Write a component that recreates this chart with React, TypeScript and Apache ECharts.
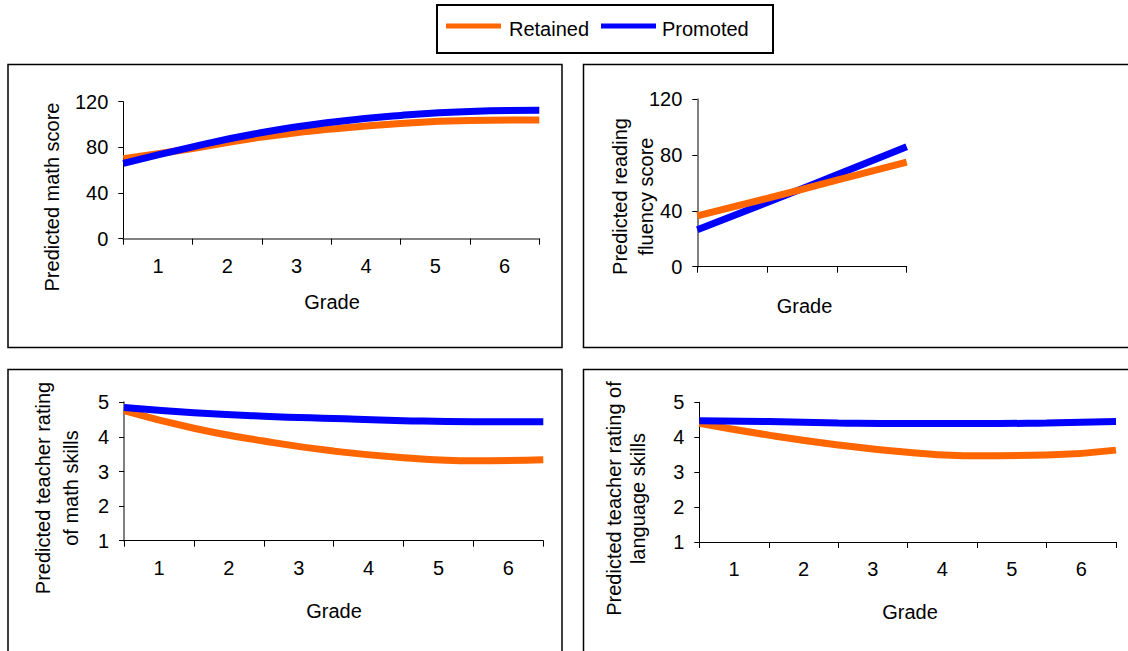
import React, { useEffect, useRef } from "react";
import * as echarts from "echarts";

// ---- data ----
const gradeLabels = ["1", "2", "3", "4", "5", "6"];
const readingCategories = ["", "", ""];
const gradePositions = [0.5, 1.5, 2.5, 3.5, 4.5, 5.5, 6.5];
const readingPositions = [0.5, 1.5, 2.5, 3.5];

const mathRetained = [70, 79, 89, 96, 101, 103.5, 104];
const mathPromoted = [66, 80.5, 93, 102, 108, 111.5, 112.5];
const readingRetained = [36.5, 49, 62, 75];
const readingPromoted = [26.5, 46, 66, 86];
const teacherMathRetained = [4.76, 4.25, 3.88, 3.59, 3.4, 3.31, 3.34];
const teacherMathPromoted = [4.85, 4.7, 4.6, 4.53, 4.47, 4.44, 4.44];
const teacherLangRetained = [4.4, 4.06, 3.78, 3.57, 3.47, 3.49, 3.63];
const teacherLangPromoted = [4.47, 4.45, 4.41, 4.39, 4.39, 4.41, 4.45];

const scoreTicks = { min: 0, max: 120, interval: 40 };
const ratingTicks = { min: 1, max: 5, interval: 1 };

const seriesNames = ["Retained", "Promoted"];
const ORANGE = "#FF6600";
const BLUE = "#0000FF";
const FONT = "'Liberation Sans', Arial, Helvetica, sans-serif";

const zip = (xs: number[], ys: number[]) => xs.map((x, i) => [x, ys[i]]);

export default function App() {
  const ref = useRef<HTMLDivElement>(null);

  useEffect(() => {
    if (!ref.current) return;
    const chart = echarts.init(ref.current, null, { renderer: "svg" });

    const panels = [
      {
        grid: { left: 123.3, top: 101.7, width: 416, height: 137 },
        cats: gradeLabels, xmax: 6.5, showLabels: true,
        y: scoreTicks, xs: gradePositions,
        retained: mathRetained, promoted: mathPromoted, promotedOnTop: true,
        yLineColor: "#000", yLineWidth: 1, xLineColor: "#808080", xLineWidth: 2,
      },
      {
        grid: { left: 697.3, top: 99.3, width: 209.4, height: 167.4 },
        cats: readingCategories, xmax: 3.5, showLabels: false,
        y: scoreTicks, xs: readingPositions,
        retained: readingRetained, promoted: readingPromoted, promotedOnTop: false,
        yLineColor: "#808080", yLineWidth: 2, xLineColor: "#000", xLineWidth: 1,
      },
      {
        grid: { left: 124, top: 402.3, width: 419.3, height: 138.4 },
        cats: gradeLabels, xmax: 6.5, showLabels: true,
        y: ratingTicks, xs: gradePositions,
        retained: teacherMathRetained, promoted: teacherMathPromoted, promotedOnTop: true,
        yLineColor: "#808080", yLineWidth: 2, xLineColor: "#000", xLineWidth: 1,
      },
      {
        grid: { left: 699.3, top: 402.3, width: 416.7, height: 139.7 },
        cats: gradeLabels, xmax: 6.5, showLabels: true,
        y: ratingTicks, xs: gradePositions,
        retained: teacherLangRetained, promoted: teacherLangPromoted, promotedOnTop: true,
        yLineColor: "#000", yLineWidth: 1, xLineColor: "#000", xLineWidth: 1,
      },
    ];

    const grids: any[] = [];
    const xAxes: any[] = [];
    const yAxes: any[] = [];
    const series: any[] = [];

    panels.forEach((p, i) => {
      grids.push({ ...p.grid, containLabel: false });
      xAxes.push({
        type: "category",
        gridIndex: i,
        data: p.cats,
        boundaryGap: true,
        axisLine: { show: true, lineStyle: { color: p.xLineColor, width: p.xLineWidth } },
        axisTick: { show: true, length: 6, lineStyle: { color: "#000" } },
        axisLabel: {
          show: p.showLabels,
          margin: 17,
          color: "#000",
          fontSize: 20,
          fontFamily: FONT,
        },
        splitLine: { show: false },
      });
      xAxes.push({
        type: "value",
        gridIndex: i,
        min: 0.5,
        max: p.xmax,
        show: false,
      });
      yAxes.push({
        type: "value",
        gridIndex: i,
        min: p.y.min,
        max: p.y.max,
        interval: p.y.interval,
        axisLine: { show: true, lineStyle: { color: p.yLineColor, width: p.yLineWidth } },
        axisTick: { show: true, length: 5, lineStyle: { color: "#000" } },
        axisLabel: { margin: 15, color: "#000", fontSize: 20, fontFamily: FONT },
        splitLine: { show: false },
      });
      const r = {
        name: seriesNames[0],
        type: "line",
        xAxisIndex: 2 * i + 1,
        yAxisIndex: i,
        data: zip(p.xs, p.retained),
        smooth: true,
        showSymbol: false,
        symbol: "none",
        lineStyle: { color: ORANGE, width: 7 },
        itemStyle: { color: ORANGE },
        z: p.promotedOnTop ? 2 : 3,
      };
      const b = {
        name: seriesNames[1],
        type: "line",
        xAxisIndex: 2 * i + 1,
        yAxisIndex: i,
        data: zip(p.xs, p.promoted),
        smooth: true,
        showSymbol: false,
        symbol: "none",
        lineStyle: { color: BLUE, width: 7 },
        itemStyle: { color: BLUE },
        z: p.promotedOnTop ? 3 : 2,
      };
      series.push(r, b);
    });

    const textStyle = (text: string, lineHeight = 22) => ({
      text,
      fill: "#000",
      fontSize: 20,
      fontFamily: FONT,
      align: "center",
      verticalAlign: "middle",
      lineHeight,
    });

    const border = (x: number, y: number, w: number, h: number, lw = 1.5) => ({
      type: "rect",
      shape: { x, y, width: w, height: h },
      style: { fill: "none", stroke: "#000", lineWidth: lw },
      silent: true,
    });

    const graphic: any[] = [
      border(437, 5, 336, 48, 2),
      border(8, 64.5, 554, 283),
      border(583.5, 64.5, 550, 283),
      border(8, 369.5, 554, 300),
      border(583.5, 369.5, 550, 300),
      // legend
      { type: "line", shape: { x1: 446, y1: 26, x2: 501, y2: 26 }, style: { stroke: ORANGE, lineWidth: 5 } },
      { type: "text", x: 509, y: 29, style: { ...textStyle(seriesNames[0]), align: "left" } },
      { type: "line", shape: { x1: 601, y1: 26, x2: 656, y2: 26 }, style: { stroke: BLUE, lineWidth: 5 } },
      { type: "text", x: 662, y: 29, style: { ...textStyle(seriesNames[1]), align: "left" } },
      // axis titles
      { type: "text", x: 52, y: 197, rotation: Math.PI / 2, style: textStyle("Predicted math score") },
      { type: "text", x: 633, y: 196.5, rotation: Math.PI / 2, style: textStyle("Predicted reading\nfluency score", 26) },
      { type: "text", x: 57, y: 488, rotation: Math.PI / 2, style: textStyle("Predicted teacher rating\nof math skills", 28) },
      { type: "text", x: 626, y: 498.5, rotation: Math.PI / 2, style: textStyle("Predicted teacher rating of\nlanguage skills", 24) },
      { type: "text", x: 332, y: 302, style: textStyle("Grade") },
      { type: "text", x: 804.5, y: 306, style: textStyle("Grade") },
      { type: "text", x: 334, y: 611, style: textStyle("Grade") },
      { type: "text", x: 910, y: 612, style: textStyle("Grade") },
    ];

    chart.setOption({
      animation: false,
      backgroundColor: "#fff",
      textStyle: { fontFamily: FONT },
      grid: grids,
      xAxis: xAxes,
      yAxis: yAxes,
      series,
      graphic,
    });

    return () => chart.dispose();
  }, []);

  return (
    <div
      ref={ref}
      style={{ position: "absolute", left: 0, top: 0, width: 1128, height: 651 }}
    />
  );
}
